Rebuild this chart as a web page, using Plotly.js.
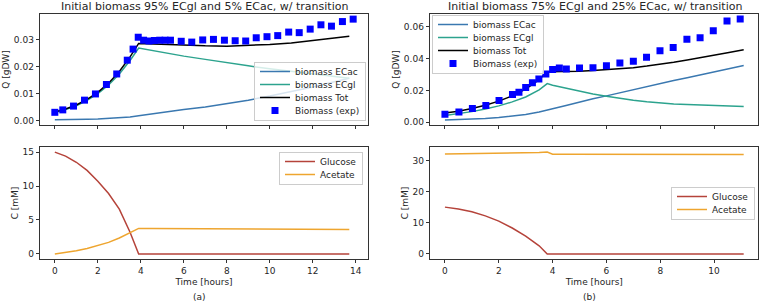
<!DOCTYPE html>
<html>
<head>
<meta charset="utf-8">
<script src="https://cdn.plot.ly/plotly-3.0.1.min.js"></script>
<style>html,body{margin:0;padding:0;background:#fff;}#chart{width:760px;height:304px;}</style>
</head>
<body>
<div id="chart"></div>
<script>
// ---------- Panel (a): 95% ECgl / 5% ECac ----------
const expTimeA = [0, 0.37, 0.87, 1.38, 1.89, 2.4, 2.88, 3.37, 3.64, 3.88, 4.13, 4.38, 4.63, 4.88, 5.13, 5.38, 5.88, 6.37, 6.88, 7.38, 7.89, 8.39, 8.88, 9.37, 9.87, 10.37, 10.88, 11.37, 11.88, 12.38, 12.87, 13.38, 13.88];
const expBiomassA = [0.0030, 0.0039, 0.0053, 0.0075, 0.0098, 0.0133, 0.0172, 0.0223, 0.0264, 0.0308, 0.0297, 0.0294, 0.0296, 0.0297, 0.0297, 0.0297, 0.0293, 0.0290, 0.0298, 0.0300, 0.0297, 0.0295, 0.0294, 0.0306, 0.0310, 0.0314, 0.0327, 0.0325, 0.0338, 0.0354, 0.0349, 0.0366, 0.0375];

const timeA = [0, 0.5, 1, 1.5, 2, 2.5, 3, 3.5, 3.9, 4.5, 5, 6, 7, 8, 9, 10, 11, 12, 13, 13.7];
const biomassTotA = [0.0031, 0.0042, 0.0057, 0.0078, 0.0104, 0.0138, 0.0181, 0.0235, 0.0285, 0.0283, 0.0281, 0.0278, 0.0276, 0.0275, 0.0277, 0.0281, 0.0287, 0.0295, 0.0305, 0.0312];
const biomassECglA = [0.0029, 0.0040, 0.0054, 0.0074, 0.0099, 0.0131, 0.0172, 0.0222, 0.0268, 0.0259, 0.0252, 0.0238, 0.0226, 0.0213, 0.0202, 0.0191, 0.0181, 0.0171, 0.0162, 0.0156];
const biomassECacA = [0.0002, 0.0002, 0.0003, 0.0004, 0.0005, 0.0007, 0.0009, 0.0013, 0.0017, 0.0024, 0.0029, 0.0040, 0.0050, 0.0062, 0.0075, 0.0090, 0.0106, 0.0124, 0.0143, 0.0156];
const glucoseA = [15, 14.4, 13.5, 12.3, 10.7, 8.9, 6.6, 3.2, 0, 0, 0, 0, 0, 0, 0, 0, 0, 0, 0, 0];
const acetateA = [0, 0.2, 0.45, 0.8, 1.2, 1.7, 2.35, 3.1, 3.75, 3.74, 3.73, 3.71, 3.69, 3.67, 3.66, 3.64, 3.63, 3.61, 3.59, 3.58];

// ---------- Panel (b): 75% ECgl / 25% ECac ----------
const expTimeB = [0, 0.52, 1.02, 1.52, 2.01, 2.51, 2.75, 3.0, 3.25, 3.49, 3.75, 4.0, 4.25, 4.51, 5.0, 5.5, 6.0, 6.5, 7.0, 7.49, 7.99, 8.48, 8.99, 9.48, 9.97, 10.48, 10.97];
const expBiomassB = [0.0050, 0.0064, 0.0087, 0.0106, 0.0137, 0.0174, 0.0189, 0.0218, 0.0249, 0.0272, 0.0303, 0.0332, 0.0341, 0.0335, 0.0341, 0.0343, 0.0355, 0.0372, 0.0384, 0.0409, 0.0450, 0.0469, 0.0521, 0.0531, 0.0575, 0.0636, 0.0648];

const timeB = [0, 0.5, 1, 1.5, 2, 2.5, 3, 3.5, 3.8, 4, 4.5, 5, 5.5, 6, 6.5, 7, 7.5, 8, 8.5, 9, 9.5, 10, 10.5, 11.1];
const biomassTotB = [0.0058, 0.0070, 0.0087, 0.0107, 0.0133, 0.0166, 0.0208, 0.0268, 0.0318, 0.0318, 0.0319, 0.0321, 0.0325, 0.0330, 0.0336, 0.0343, 0.0353, 0.0364, 0.0377, 0.0391, 0.0405, 0.0420, 0.0436, 0.0455];
const biomassECacB = [0.0015, 0.0017, 0.0020, 0.0024, 0.0030, 0.0038, 0.0049, 0.0064, 0.0075, 0.0085, 0.0106, 0.0128, 0.0148, 0.0166, 0.0186, 0.0205, 0.0224, 0.0243, 0.0262, 0.0280, 0.0298, 0.0316, 0.0335, 0.0356];
const biomassECglB = [0.0043, 0.0053, 0.0067, 0.0083, 0.0103, 0.0128, 0.0159, 0.0204, 0.0243, 0.0233, 0.0213, 0.0193, 0.0177, 0.0164, 0.0150, 0.0138, 0.0129, 0.0121, 0.0115, 0.0111, 0.0107, 0.0104, 0.0101, 0.0099];
const glucoseB = [15, 14.4, 13.5, 12.2, 10.5, 8.3, 5.7, 2.6, 0, 0, 0, 0, 0, 0, 0, 0, 0, 0, 0, 0, 0, 0, 0, 0];
const acetateB = [32.0, 32.05, 32.1, 32.15, 32.2, 32.3, 32.4, 32.5, 32.65, 31.95, 31.95, 31.94, 31.93, 31.92, 31.92, 31.91, 31.9, 31.9, 31.89, 31.88, 31.87, 31.86, 31.86, 31.85];

const titles = ['Initial biomass 95% ECgl and 5% ECac, w/ transition', 'Initial biomass 75% ECgl and 25% ECac, w/ transition'];
const panelLabels = ['(a)', '(b)'];

// ---------- styles ----------
const C_AC = '#3a78b0', C_GL = '#2ca38e', C_TOT = '#000000', C_EXP = '#0000ff';
const C_GLC = '#b5433a', C_ACE = '#eea52f';
const LW = 1.5;

function line(x, y, name, color, xa, ya, leg) {
  return {x: x, y: y, name: name, type: 'scatter', mode: 'lines',
          line: {color: color, width: LW}, xaxis: xa, yaxis: ya, legend: leg};
}
function pts(x, y, name, xa, ya, leg) {
  return {x: x, y: y, name: name, type: 'scatter', mode: 'markers',
          marker: {symbol: 'square', size: 7, color: C_EXP}, xaxis: xa, yaxis: ya, legend: leg};
}

const data = [
  line(timeA, biomassECacA, 'biomass ECac', C_AC, 'x', 'y', 'legend'),
  line(timeA, biomassECglA, 'biomass ECgl', C_GL, 'x', 'y', 'legend'),
  line(timeA, biomassTotA, 'biomass Tot', C_TOT, 'x', 'y', 'legend'),
  pts(expTimeA, expBiomassA, 'Biomass (exp)', 'x', 'y', 'legend'),
  line(timeA, glucoseA, 'Glucose', C_GLC, 'x2', 'y2', 'legend3'),
  line(timeA, acetateA, 'Acetate', C_ACE, 'x2', 'y2', 'legend3'),
  line(timeB, biomassECacB, 'biomass ECac', C_AC, 'x3', 'y3', 'legend2'),
  line(timeB, biomassECglB, 'biomass ECgl', C_GL, 'x3', 'y3', 'legend2'),
  line(timeB, biomassTotB, 'biomass Tot', C_TOT, 'x3', 'y3', 'legend2'),
  pts(expTimeB, expBiomassB, 'Biomass (exp)', 'x3', 'y3', 'legend2'),
  line(timeB, glucoseB, 'Glucose', C_GLC, 'x4', 'y4', 'legend4'),
  line(timeB, acetateB, 'Acetate', C_ACE, 'x4', 'y4', 'legend4')
];

const W = 760, H = 304;
const px = v => v / W;
const py = v => 1 - v / H;

const baseAxis = {
  showline: true, mirror: true, linecolor: '#000', linewidth: 0.8,
  ticks: 'outside', ticklen: 3.5, tickwidth: 0.8, tickcolor: '#000',
  showgrid: false, zeroline: false, fixedrange: true,
  tickfont: {family: 'DejaVu Sans', size: 9, color: '#262626'}
};
const ax = o => Object.assign({}, baseAxis, o);
const titleFont = {family: 'DejaVu Sans', size: 9, color: '#262626'};

const legBase = {bgcolor: 'rgba(255,255,255,0.8)', bordercolor: '#cccccc', borderwidth: 1,
                 font: {family: 'DejaVu Sans', size: 9, color: '#262626'}, tracegroupgap: 0};

// legend boxes (matplotlib-like placement), in pixels
const legendBoxes = {
  legend:  {x: 366, xanchor: 'right', y: 120, yanchor: 'bottom'},
  legend2: {x: 432, xanchor: 'left',  y: 15,  yanchor: 'top'},
  legend3: {x: 363, xanchor: 'right', y: 152, yanchor: 'top'},
  legend4: {x: 755, xanchor: 'right', y: 203, yanchor: 'middle'}
};
function legendLayout(id) {
  const b = legendBoxes[id];
  return Object.assign({}, legBase, {x: px(b.x), xanchor: b.xanchor, y: py(b.y), yanchor: b.yanchor});
}

const titleFontBig = {family: 'DejaVu Sans', size: 11, color: '#262626'};

const layout = {
  width: W, height: H,
  margin: {l: 0, r: 0, t: 0, b: 0},
  paper_bgcolor: '#fff', plot_bgcolor: '#fff',
  font: {family: 'DejaVu Sans', size: 9, color: '#262626'},
  showlegend: true,
  xaxis: ax({domain: [px(40), px(368)], anchor: 'y', range: [-0.69, 14.57], dtick: 2, tick0: 0, showticklabels: false}),
  yaxis: ax({domain: [py(125), py(14)], anchor: 'x', range: [-0.0017, 0.0394], dtick: 0.01, tickformat: '.2f',
             title: {text: 'Q [gDW]', font: titleFont, standoff: 2}}),
  xaxis2: ax({domain: [px(40), px(368)], anchor: 'y2', range: [-0.69, 14.57], dtick: 2, tick0: 0,
              title: {text: 'Time [hours]', font: titleFont, standoff: 3}}),
  yaxis2: ax({domain: [py(259), py(147)], anchor: 'x2', range: [-0.75, 15.75], dtick: 5,
              title: {text: 'C [mM]', font: titleFont, standoff: 2}}),
  xaxis3: ax({domain: [px(430), px(758.5)], anchor: 'y3', range: [-0.555, 11.65], dtick: 2, tick0: 0, showticklabels: false}),
  yaxis3: ax({domain: [py(125), py(14)], anchor: 'x3', range: [-0.0017, 0.068], dtick: 0.02, tickformat: '.2f',
              title: {text: 'Q [gDW]', font: titleFont, standoff: 2}}),
  xaxis4: ax({domain: [px(430), px(758.5)], anchor: 'y4', range: [-0.555, 11.65], dtick: 2, tick0: 0,
              title: {text: 'Time [hours]', font: titleFont, standoff: 3}}),
  yaxis4: ax({domain: [py(259), py(147)], anchor: 'x4', range: [-1.63, 34.28], dtick: 10,
              title: {text: 'C [mM]', font: titleFont, standoff: 2}}),
  legend: legendLayout('legend'),
  legend2: legendLayout('legend2'),
  legend3: legendLayout('legend3'),
  legend4: legendLayout('legend4'),
  annotations: [
    {text: titles[0], xref: 'paper', yref: 'paper', x: px(204), y: py(6), xanchor: 'center', yanchor: 'middle',
     showarrow: false, font: titleFontBig},
    {text: titles[1], xref: 'paper', yref: 'paper', x: px(595), y: py(6), xanchor: 'center', yanchor: 'middle',
     showarrow: false, font: titleFontBig},
    {text: panelLabels[0], xref: 'paper', yref: 'paper', x: px(199), y: py(297), xanchor: 'center', yanchor: 'middle',
     showarrow: false, font: {family: 'DejaVu Sans', size: 9, color: '#262626'}},
    {text: panelLabels[1], xref: 'paper', yref: 'paper', x: px(589), y: py(297), xanchor: 'center', yanchor: 'middle',
     showarrow: false, font: {family: 'DejaVu Sans', size: 9, color: '#262626'}}
  ]
};

// Tighten legend row spacing to matplotlib-like density (Plotly enforces >=19px rows).
function compactLegends(gd) {
  const STEP = 13, PAD = 9.5;
  const re = /translate\(\s*([-\d.eE]+)[ ,]+([-\d.eE]+)\s*\)/;
  Object.keys(legendBoxes).forEach(id => {
    const g = gd.querySelector('g.' + id);
    if (!g) return;
    const traces = Array.from(g.querySelectorAll('g.traces'));
    const bg = g.querySelector('rect.bg');
    if (!traces.length || !bg) return;
    const newH = 2 * PAD + (traces.length - 1) * STEP;
    traces.forEach((t, i) => {
      const m = re.exec(t.getAttribute('transform') || '');
      const tx = m ? parseFloat(m[1]) : 1;
      t.setAttribute('transform', 'translate(' + tx + ',' + (PAD + i * STEP) + ')');
    });
    bg.setAttribute('height', newH);
    const gm = re.exec(g.getAttribute('transform') || '');
    if (gm) {
      const b = legendBoxes[id];
      let gy;
      if (b.yanchor === 'top') gy = b.y;
      else if (b.yanchor === 'bottom') gy = b.y - newH;
      else gy = b.y - newH / 2;
      g.setAttribute('transform', 'translate(' + gm[1] + ',' + gy + ')');
    }
    const sb = g.querySelector('g.scrollbox');
    if (sb) sb.removeAttribute('clip-path');
  });
}

const gd = document.getElementById('chart');
Plotly.newPlot(gd, data, layout, {staticPlot: true, displayModeBar: false}).then(() => compactLegends(gd));
</script>
</body>
</html>
